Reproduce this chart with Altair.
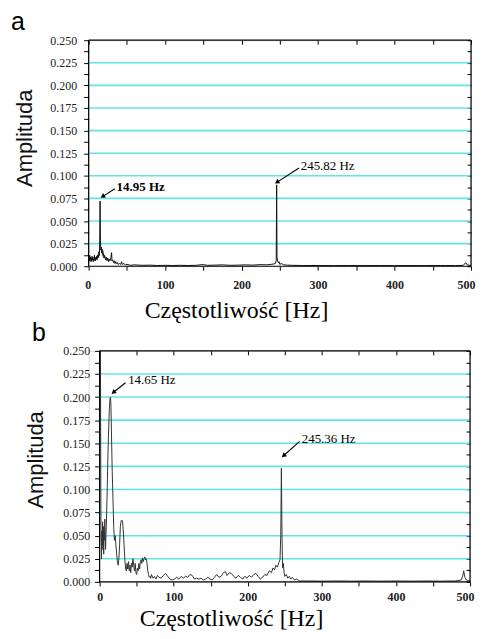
import altair as alt
import pandas as pd

# ---------------- data ----------------
freq_a = [0, 0.5, 1, 1.5, 2, 2.5, 3, 3.5, 4, 4.5, 5, 5.5, 6, 6.5, 7, 7.5, 8, 8.5, 9, 9.5,
          10, 10.5, 11, 11.5, 12, 12.5, 13, 13.5, 14, 14.5, 14.95, 15.4, 16, 16.5, 17, 17.5,
          18, 18.5, 19, 19.5, 20, 21, 22, 23, 24, 25, 26, 27, 28, 29, 30, 30.5, 31.5, 32.5,
          33.5, 34.5, 35.5, 36.5, 37.5, 38.5, 40, 42, 43, 44, 46, 48, 50, 55, 60, 70, 80, 90,
          100, 110, 120, 130, 140, 150, 155, 165, 175, 185, 195, 205, 215, 225, 232, 238, 242,
          244, 245.3, 245.82, 246.3, 247, 248, 249, 250, 252, 255, 260, 265, 280, 300, 320,
          340, 360, 380, 400, 420, 440, 460, 480, 490, 493, 495, 500]
amp_a = [0.004, 0.011, 0.006, 0.012, 0.007, 0.010, 0.005, 0.009, 0.006, 0.011, 0.007, 0.010,
         0.005, 0.008, 0.006, 0.012, 0.007, 0.009, 0.006, 0.010, 0.008, 0.011, 0.007, 0.012,
         0.009, 0.013, 0.010, 0.016, 0.012, 0.030, 0.072, 0.028, 0.018, 0.021, 0.015, 0.019,
         0.013, 0.017, 0.011, 0.014, 0.009, 0.012, 0.007, 0.010, 0.006, 0.009, 0.005, 0.008,
         0.006, 0.009, 0.015, 0.006, 0.007, 0.004, 0.006, 0.003, 0.005, 0.003, 0.004, 0.002,
         0.003, 0.002, 0.005, 0.002, 0.003, 0.0015, 0.002, 0.001, 0.0015, 0.001, 0.0012,
         0.0008, 0.001, 0.0008, 0.001, 0.0008, 0.001, 0.0018, 0.001, 0.0012, 0.0015, 0.001,
         0.0012, 0.0015, 0.0012, 0.0018, 0.0015, 0.002, 0.0025, 0.003, 0.006, 0.090, 0.010,
         0.006, 0.004, 0.005, 0.002, 0.003, 0.0015, 0.0012, 0.001, 0.0008, 0.0008, 0.0007,
         0.0008, 0.0007, 0.0008, 0.0007, 0.0008, 0.0007, 0.0008, 0.0007, 0.001, 0.004, 0.0015,
         0.0008]

freq_b = [0, 1, 1.8, 2.5, 3, 3.5, 4, 4.5, 5, 5.5, 6, 6.5, 7, 7.5, 8, 9, 10, 11, 12, 13, 14,
          14.65, 15.3, 16, 17, 18, 19, 20, 21, 22, 23, 24, 25, 26, 27, 28, 29, 30, 31, 32, 33,
          34, 35, 36, 37, 38, 39, 40, 41, 42, 43, 44, 45, 46, 47, 48, 49, 50, 51, 52, 53, 54,
          55, 56, 57, 58, 59, 60, 61, 62, 63, 64, 65, 66, 67, 68, 69, 70, 72, 74, 76, 78, 80,
          83, 86, 89, 92, 95, 98, 101, 104, 107, 110, 113, 116, 119, 122, 125, 128, 131, 134,
          137, 140, 143, 146, 149, 152, 155, 158, 161, 164, 167, 170, 172, 175, 178, 181, 184,
          187, 190, 193, 196, 199, 202, 205, 208, 211, 214, 217, 220, 223, 226, 229, 232, 234,
          236, 238, 240, 242, 243.5, 244.5, 245.36, 246.2, 247, 248, 249, 250, 252, 254, 256,
          258, 260, 263, 266, 270, 280, 300, 320, 340, 360, 380, 400, 420, 440, 460, 480, 488,
          490, 491.5, 493, 495, 500]
amp_b = [0.27, 0.27, 0.06, 0.025, 0.055, 0.04, 0.065, 0.035, 0.06, 0.03, 0.058, 0.045, 0.068,
         0.05, 0.035, 0.06, 0.09, 0.13, 0.16, 0.185, 0.198, 0.200, 0.19, 0.16, 0.12, 0.09,
         0.06, 0.045, 0.05, 0.04, 0.03, 0.022, 0.018, 0.025, 0.04, 0.06, 0.066, 0.067, 0.065,
         0.055, 0.04, 0.025, 0.015, 0.012, 0.02, 0.014, 0.022, 0.012, 0.018, 0.01, 0.02,
         0.016, 0.025, 0.018, 0.012, 0.02, 0.01, 0.008, 0.015, 0.012, 0.02, 0.014, 0.022,
         0.024, 0.02, 0.026, 0.022, 0.025, 0.027, 0.024, 0.025, 0.02, 0.012, 0.008, 0.005,
         0.006, 0.004, 0.008, 0.004, 0.006, 0.003, 0.007, 0.005, 0.004, 0.007, 0.009, 0.006,
         0.003, 0.002, 0.003, 0.005, 0.003, 0.006, 0.004, 0.006, 0.005, 0.008, 0.007, 0.003,
         0.004, 0.003, 0.004, 0.002, 0.003, 0.005, 0.003, 0.002, 0.005, 0.008, 0.005, 0.006,
         0.01, 0.011, 0.007, 0.01, 0.009, 0.006, 0.004, 0.007, 0.005, 0.003, 0.006, 0.004,
         0.007, 0.005, 0.008, 0.009, 0.006, 0.003, 0.005, 0.008, 0.007, 0.012, 0.01, 0.015,
         0.013, 0.018, 0.016, 0.021, 0.024, 0.05, 0.123, 0.05, 0.015, 0.02, 0.01, 0.006,
         0.008, 0.004, 0.006, 0.003, 0.005, 0.002, 0.003, 0.001, 0.001, 0.0008, 0.001, 0.0008,
         0.001, 0.0008, 0.001, 0.0008, 0.001, 0.0008, 0.001, 0.002, 0.006, 0.012, 0.005,
         0.002, 0.001]

grid_values = [0.025, 0.05, 0.075, 0.1, 0.125, 0.15, 0.175, 0.2, 0.225]
y_tick_values = [0, 0.0125, 0.025, 0.0375, 0.05, 0.0625, 0.075, 0.0875, 0.1, 0.1125, 0.125,
                 0.1375, 0.15, 0.1625, 0.175, 0.1875, 0.2, 0.2125, 0.225, 0.2375, 0.25]
x_tick_values = [0, 50, 100, 150, 200, 250, 300, 350, 400, 450, 500]

# annotations: text, text pos, arrow tail, arrow head, head angle, bold
ann_a_text = ["14.95 Hz", "245.82 Hz"]
ann_a_tx = [36.5, 277.3]
ann_a_ty = [0.088, 0.1105]
ann_a_x1 = [34.3, 275.1]
ann_a_y1 = [0.0856, 0.1087]
ann_a_x2 = [19.1, 247.0]
ann_a_y2 = [0.0775, 0.0933]
ann_a_ang = [237.5, 237.0]
ann_a_bold = [True, False]

ann_b_text = ["14.65 Hz", "245.36 Hz"]
ann_b_tx = [38.5, 272.8]
ann_b_ty = [0.218, 0.155]
ann_b_x1 = [34.9, 270.0]
ann_b_y1 = [0.2155, 0.152]
ann_b_x2 = [19.3, 249.0]
ann_b_y2 = [0.2055, 0.137]
ann_b_ang = [231.5, 228.0]
ann_b_bold = [False, False]

CYAN = "#62e4e4"
SERIF = "Liberation Serif"
SANS = "Liberation Sans"


def panel(label, freq, amp, texts, tx, ty, x1, y1, x2, y2, ang, bold,
          width, height, xmin, yoff, ylab_pad, xlab_pad, line_color,
          title_dx, title_offset, ytitle_y, xtitle_x, xtitle_y):
    xs = alt.Scale(domain=[xmin, 500], nice=False, zero=False)
    ys = alt.Scale(domain=[0, 0.25], nice=False, zero=False)

    grid = alt.Chart(pd.DataFrame({"g": grid_values})).mark_rule(
        color=CYAN, strokeWidth=1.6
    ).encode(
        y=alt.Y("g:Q", scale=ys, axis=None),
        x=alt.XDatum(0, type="quantitative", scale=xs, axis=None),
        x2=alt.X2Datum(500),
    )

    line = alt.Chart(pd.DataFrame({"f": freq, "a": amp})).mark_line(
        color=line_color, strokeWidth=1.0, clip=True
    ).encode(
        x=alt.X("f:Q", scale=xs, axis=alt.Axis(
            values=x_tick_values, labelExpr="(datum.value % 100 == 0) ? datum.label : ''",
            labelFlush=1, labelFlushOffset=4, labelOverlap=False, tickSize=4,
            labelPadding=xlab_pad,
            domain=False, grid=False, title="Częstotliwość [Hz]",
            titleX=xtitle_x, titleY=xtitle_y, titleAlign="center", titleBaseline="alphabetic",
            titleFont=SERIF, titleFontSize=24, titleFontWeight="normal", titleColor="black",
            labelFont=SERIF, labelFontSize=12, labelFontWeight="bold", labelColor="#222",
            tickColor="black")),
        y=alt.Y("a:Q", scale=ys, axis=alt.Axis(
            values=y_tick_values, format=".3f",
            labelExpr="(round(datum.value*10000) % 250 == 0) ? datum.label : ''",
            labelFlush=False, labelOverlap=False, tickSize=5, labelPadding=ylab_pad,
            domain=False, grid=False, offset=yoff, title="Amplituda",
            titleAngle=270, titleX=-52, titleY=ytitle_y, titleAlign="center",
            titleBaseline="bottom", titleFont=SANS, titleFontSize=22,
            titleFontWeight="normal", titleColor="#111",
            labelFont=SERIF, labelFontSize=12, labelColor="#222", tickColor="black")),
    )

    borders = alt.Chart(pd.DataFrame({
        "x": [0, 0, 0, 500], "x2": [500, 500, 0, 500],
        "y": [0, 0.25, 0, 0], "y2": [0, 0.25, 0.25, 0.25]})).mark_rule(
        color="black", strokeWidth=1.2
    ).encode(
        x=alt.X("x:Q", scale=xs, axis=alt.Axis(
            orient="top", values=x_tick_values, labels=False, domain=False, grid=False,
            tickSize=4, offset=-4, title=None, tickColor="black")),
        x2="x2:Q",
        y=alt.Y("y:Q", scale=ys, axis=alt.Axis(
            orient="right", values=y_tick_values, labels=False, domain=False, grid=False,
            tickSize=4, offset=-4, title=None, tickColor="black")),
        y2="y2:Q",
    )

    ann = pd.DataFrame({"t": texts, "tx": tx, "ty": ty, "x1": x1, "y1": y1,
                        "x2": x2, "y2": y2, "ang": ang, "bold": bold})

    arrows = alt.Chart(ann).mark_rule(color="black", strokeWidth=1.1).encode(
        x=alt.X("x1:Q", scale=xs, axis=None), y=alt.Y("y1:Q", scale=ys, axis=None),
        x2="x2:Q", y2="y2:Q")

    heads = alt.Chart(ann).mark_point(
        shape="triangle", filled=True, size=28, color="black", opacity=1
    ).encode(
        x=alt.X("x2:Q", scale=xs, axis=None), y=alt.Y("y2:Q", scale=ys, axis=None),
        angle=alt.Angle("ang:Q", scale=None))

    layers = [grid, line, borders, arrows, heads]
    for w in (True, False):
        sub = ann[ann["bold"] == w]
        if len(sub):
            layers.append(alt.Chart(sub).mark_text(
                align="left", baseline="middle", font=SERIF, fontSize=13,
                fontWeight="bold" if w else "normal", color="black"
            ).encode(
                x=alt.X("tx:Q", scale=xs, axis=None), y=alt.Y("ty:Q", scale=ys, axis=None),
                text="t:N"))

    return alt.layer(*layers).resolve_axis(x="independent", y="independent").properties(
        width=width, height=height,
        title=alt.TitleParams(label, anchor="start", frame="group", dx=title_dx,
                              offset=title_offset, baseline="top", font=SANS,
                              fontSize=25, fontWeight="normal", color="black"))


pa = panel("a", freq_a, amp_a, ann_a_text, ann_a_tx, ann_a_ty, ann_a_x1, ann_a_y1,
           ann_a_x2, ann_a_y2, ann_a_ang, ann_a_bold,
           width=384, height=227, xmin=0, yoff=0, ylab_pad=7, xlab_pad=9,
           line_color="#111", title_dx=-78, title_offset=-1, ytitle_y=98, xtitle_x=148,
           xtitle_y=51)
pb = panel("b", freq_b, amp_b, ann_b_text, ann_b_tx, ann_b_ty, ann_b_x1, ann_b_y1,
           ann_b_x2, ann_b_y2, ann_b_ang, ann_b_bold,
           width=383, height=232, xmin=-14.8, yoff=-11, ylab_pad=5, xlab_pad=6,
           line_color="#333", title_dx=-57, title_offset=-1, ytitle_y=109, xtitle_x=143,
           xtitle_y=44)

chart = alt.vconcat(pa, pb, spacing=85, bounds="flush").properties(
    padding={"left": 2, "top": 0, "right": 0, "bottom": -2}
).configure_view(stroke=None).configure(background="white")

chart.save("out.html", embed_options={"renderer": "svg", "actions": False})
